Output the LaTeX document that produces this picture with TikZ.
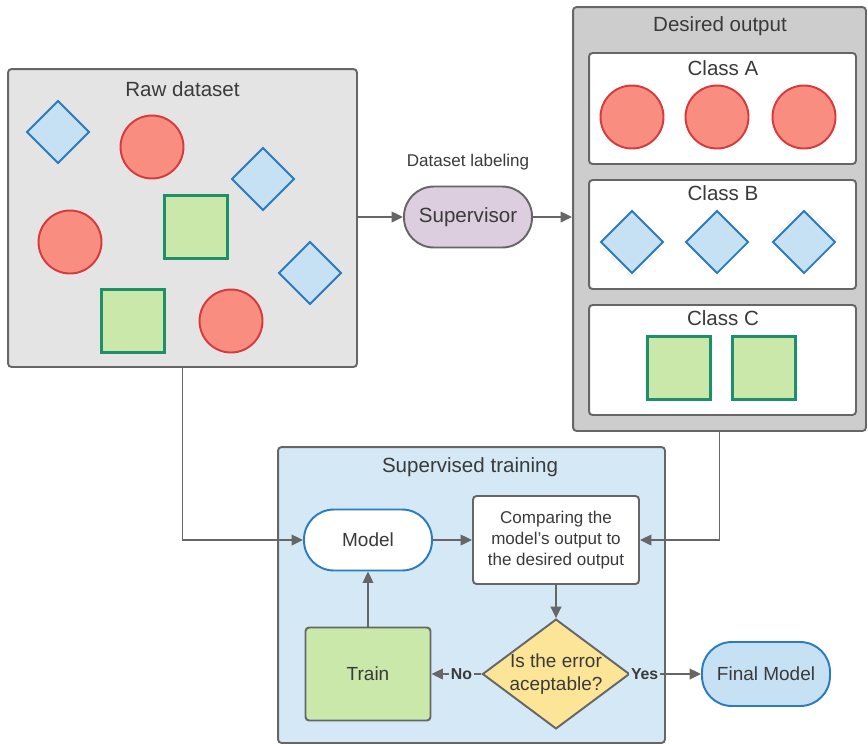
\documentclass[tikz,border=0pt]{standalone}
\usepackage{fontspec}
\setmainfont{Liberation Sans}
\usepackage{xcolor}
\usetikzlibrary{shapes.geometric,arrows.meta}

\definecolor{edgegray}{HTML}{666666}
\definecolor{inkgray}{HTML}{3A3A3A}
\definecolor{rawgray}{HTML}{E4E4E4}
\definecolor{outgray}{HTML}{CDCDCD}
\definecolor{trainfill}{HTML}{D5E8F5}
\definecolor{redfill}{HTML}{F98D80}
\definecolor{redline}{HTML}{D63A3C}
\definecolor{bluefill}{HTML}{C6E1F3}
\definecolor{blueline}{HTML}{2A7BBF}
\definecolor{greenfill}{HTML}{C9E8AA}
\definecolor{greenline}{HTML}{1E9068}
\definecolor{supfill}{HTML}{DCCEDF}
\definecolor{decfill}{HTML}{FDE597}

\tikzset{
  bigtxt/.style={text=inkgray,font=\fontsize{11.7}{14}\selectfont},
  midtxt/.style={text=inkgray,font=\fontsize{10.8}{13}\selectfont},
  smalltxt/.style={text=inkgray,font=\fontsize{9.7}{12}\selectfont},
  panel/.style={draw=edgegray,line width=1.1pt,rounded corners=2pt},
  ball/.style={circle,draw=redline,fill=redfill,line width=1.1pt,minimum size=1.26cm,inner sep=0pt},
  gem/.style={diamond,draw=blueline,fill=bluefill,line width=1.1pt,minimum size=1.26cm,inner sep=0pt},
  block/.style={rectangle,draw=greenline,fill=greenfill,line width=1.2pt,minimum size=1.26cm,inner sep=0pt},
  pill/.style={rectangle,rounded corners=17pt,line width=1.1pt,minimum height=1.22cm,minimum width=2.56cm,midtxt},
  flow/.style={draw=edgegray,line width=1.05pt,-{Triangle[length=6.5pt,width=6pt]}},
  answer/.style={fill=trainfill,inner sep=1pt,text=inkgray,font=\fontsize{9}{11}\selectfont\bfseries}
}

\begin{document}
\begin{tikzpicture}[x=0.02cm,y=-0.02cm]
\useasboundingbox (0,0) rectangle (868,745);
\node (raw) at (182.5,218) [panel,fill=rawgray,minimum width=6.98cm,minimum height=5.96cm] {};
\node (rawtitle) at (182.5,89) [bigtxt] {Raw dataset};
\node (out) at (719.5,219) [panel,fill=outgray,minimum width=5.86cm,minimum height=8.48cm] {};
\node (outtitle) at (720,26) [bigtxt] {Desired output};
\node (train) at (471.5,595) [panel,fill=trainfill,minimum width=7.74cm,minimum height=5.92cm] {};
\node (traintitle) at (470,467) [bigtxt] {Supervised training};

\node (d1) at (58,132) [gem] {};
\node (c1) at (152,147) [ball] {};
\node (d2) at (263,179) [gem] {};
\node (c2) at (70,242) [ball] {};
\node (s1) at (196,227) [block] {};
\node (d3) at (310,273) [gem] {};
\node (s2) at (133,321) [block] {};
\node (c3) at (231,321) [ball] {};

\node (clsA) at (722.5,108.5) [panel,fill=white,minimum width=5.34cm,minimum height=2.22cm] {};
\node (clsAtitle) at (723,68) [bigtxt] {Class A};
\node (a1) at (632,117) [ball] {};
\node (a2) at (717,117) [ball] {};
\node (a3) at (804,117) [ball] {};
\node (clsB) at (722.5,234.5) [panel,fill=white,minimum width=5.34cm,minimum height=2.18cm] {};
\node (clsBtitle) at (723,193) [bigtxt] {Class B};
\node (b1) at (632,242) [gem] {};
\node (b2) at (717,242) [gem] {};
\node (b3) at (804,242) [gem] {};
\node (clsC) at (722.5,360) [panel,fill=white,minimum width=5.34cm,minimum height=2.2cm] {};
\node (clsCtitle) at (723,318) [bigtxt] {Class C};
\node (e1) at (679,368) [block] {};
\node (e2) at (764,368) [block] {};

\node (label) at (468,162) [smalltxt] {Dataset labeling};
\node (sup) at (468,217) [pill,draw=edgegray,fill=supfill,bigtxt] {Supervisor};

\node (model) at (368,540) [pill,draw=blueline,fill=white] {Model};
\node (cmp) at (556,540) [rectangle,draw=edgegray,fill=white,line width=1.1pt,rounded corners=2pt,minimum width=3.32cm,minimum height=1.76cm,align=center,smalltxt] {Comparing the\\model's output to\\the desired output};
\node (dec) at (556,674) [diamond,aspect=1.34,draw=edgegray,fill=decfill,line width=1.1pt,inner sep=0pt,minimum width=2.84cm,minimum height=2.12cm,align=center,midtxt] {Is the error\\aceptable?};
\node (trn) at (368,674) [rectangle,draw=edgegray,fill=greenfill,line width=1.1pt,rounded corners=2pt,minimum width=2.5cm,minimum height=1.86cm,midtxt] {Train};
\node (final) at (766,674) [pill,draw=blueline,fill=bluefill,minimum height=1.28cm] {Final Model};

\draw [flow] (raw.east |- sup.west) -- (sup.west);
\draw [flow] (sup.east) -- (sup.east -| out.west);
\draw [flow] (raw.south) |- (model.west);
\draw [flow] (out.south) |- (cmp.east);
\draw [flow] (model) -- (cmp);
\draw [flow] (cmp) -- (dec);
\draw [flow] (dec) -- node [answer,pos=0.4] {No} (trn);
\draw [flow] (dec) -- node [answer,pos=0.2] {Yes} (final);
\draw [flow] (trn) -- (model);
\end{tikzpicture}
\end{document}
